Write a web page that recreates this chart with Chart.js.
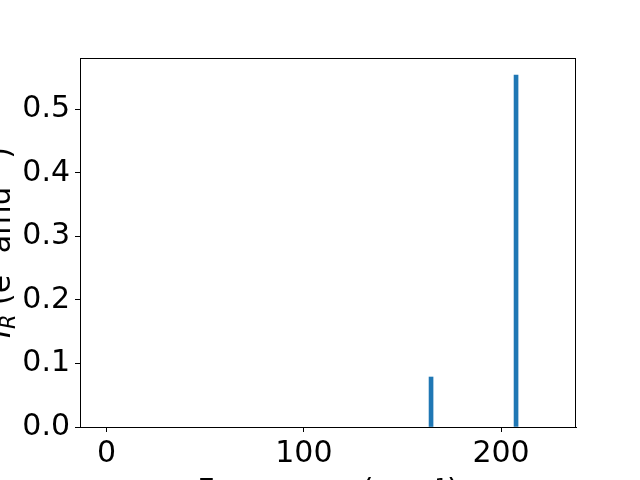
<!DOCTYPE html>
<html lang="en">
<head>
  <meta charset="UTF-8" />
  <title>IR intensities</title>
  <script src="https://cdn.jsdelivr.net/npm/chart.js"></script>
  <style>
    body {
      margin: 0;
      background: #ffffff;
    }
    canvas {
      display: block;
    }
  </style>
</head>
<body>
  <canvas id="irChart" width="640" height="480"></canvas>

  <script>
    // Data
    const frequencies = [164.5, 207.6];
    const intensities = [0.0787, 0.554];
    const xTickValues = [0, 100, 200];
    const yTickValues = [0, 0.1, 0.2, 0.3, 0.4, 0.5];

    const FONT = "'DejaVu Sans', sans-serif";

    // Axis titles and the box around the plot area
    const frameAndTitles = {
      id: 'frameAndTitles',
      afterDraw(chart) {
        const { ctx, chartArea } = chart;
        ctx.save();
        ctx.strokeStyle = '#000';
        ctx.lineWidth = 1;
        ctx.strokeRect(chartArea.left + 0.5, chartArea.top + 0.5,
          chartArea.right - chartArea.left - 1, chartArea.bottom - chartArea.top);

        ctx.fillStyle = '#000';

        // x title
        ctx.font = `30px ${FONT}`;
        ctx.textAlign = 'center';
        ctx.textBaseline = 'top';
        ctx.fillText('Frequency (cm\u207B\u00B9)', (chartArea.left + chartArea.right) / 2, 477);

        // y title: I_R (e² amu⁻¹)
        const midY = (chartArea.top + chartArea.bottom) / 2;
        ctx.translate(10, midY);
        ctx.rotate(-Math.PI / 2);
        ctx.textAlign = 'left';
        ctx.textBaseline = 'alphabetic';
        const parts = [
          { t: 'I', f: `italic 30px ${FONT}`, dy: 0 },
          { t: 'R', f: `italic 21px ${FONT}`, dy: 5 },
          { t: ' (e\u00B2 amu\u207B\u00B9)', f: `30px ${FONT}`, dy: 0 }
        ];
        let total = 0;
        parts.forEach(p => { ctx.font = p.f; p.w = ctx.measureText(p.t).width; total += p.w; });
        let x = -total / 2;
        parts.forEach(p => {
          ctx.font = p.f;
          ctx.fillText(p.t, x, p.dy);
          x += p.w;
        });
        ctx.restore();
      }
    };

    new Chart(document.getElementById('irChart').getContext('2d'), {
      type: 'bar',
      data: {
        datasets: [{
          data: frequencies.map((f, i) => ({ x: f, y: intensities[i] })),
          backgroundColor: '#1f77b4',
          borderWidth: 0,
          barThickness: 4
        }]
      },
      options: {
        responsive: false,
        animation: false,
        layout: { padding: { top: 58, right: 64, left: 0, bottom: 0 } },
        plugins: {
          legend: { display: false },
          tooltip: { enabled: false }
        },
        scales: {
          x: {
            type: 'linear',
            min: -13.5,
            max: 238,
            offset: false,
            afterBuildTicks: scale => { scale.ticks = xTickValues.map(v => ({ value: v })); },
            afterFit: scale => { scale.height = 53; },
            grid: { display: true, drawOnChartArea: false, drawTicks: true, tickLength: 5, color: '#000', offset: false },
            border: { display: true, color: '#000', width: 1 },
            ticks: { color: '#000', padding: 4, maxRotation: 0, font: { family: FONT, size: 30 } }
          },
          y: {
            min: 0,
            max: 0.581,
            afterBuildTicks: scale => { scale.ticks = yTickValues.map(v => ({ value: v })); },
            afterFit: scale => { scale.width = 80; },
            grid: { display: true, drawOnChartArea: false, drawTicks: true, tickLength: 5, color: '#000' },
            border: { display: true, color: '#000', width: 1 },
            ticks: {
              color: '#000',
              padding: 5,
              font: { family: FONT, size: 30 },
              callback: v => v.toFixed(1)
            }
          }
        }
      },
      plugins: [frameAndTitles]
    });
  </script>
</body>
</html>
